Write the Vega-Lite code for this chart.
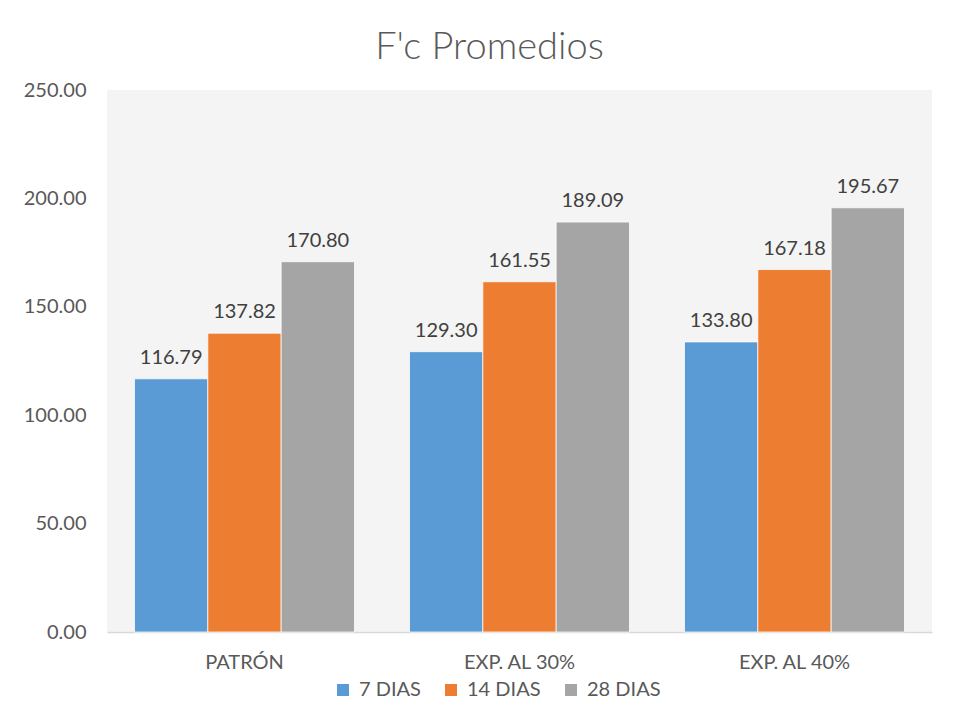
{
  "$schema": "https://vega.github.io/schema/vega-lite/v6.json",
  "width": 825,
  "height": 542,
  "autosize": {"type": "none"},
  "padding": {"left": 107, "top": 90, "right": 26, "bottom": 85},
  "background": "white",
  "title": {
    "text": "F'c Promedios",
    "font": "Lato",
    "fontWeight": 300,
    "fontSize": 38,
    "color": "#595959",
    "anchor": "middle",
    "dx": -30,
    "offset": 13
  },
  "config": {
    "view": {"fill": "#f4f4f4", "stroke": null},
    "font": "Lato",
    "axis": {"labelFont": "Lato", "labelColor": "#595959", "labelFontSize": 20, "grid": false, "ticks": false, "title": null}
  },
  "data": {
    "values": [
      {"grupo": "PATRÓN", "edad": "7 DIAS", "fc": 116.79},
      {"grupo": "PATRÓN", "edad": "14 DIAS", "fc": 137.82},
      {"grupo": "PATRÓN", "edad": "28 DIAS", "fc": 170.80},
      {"grupo": "EXP. AL 30%", "edad": "7 DIAS", "fc": 129.30},
      {"grupo": "EXP. AL 30%", "edad": "14 DIAS", "fc": 161.55},
      {"grupo": "EXP. AL 30%", "edad": "28 DIAS", "fc": 189.09},
      {"grupo": "EXP. AL 40%", "edad": "7 DIAS", "fc": 133.80},
      {"grupo": "EXP. AL 40%", "edad": "14 DIAS", "fc": 167.18},
      {"grupo": "EXP. AL 40%", "edad": "28 DIAS", "fc": 195.67}
    ]
  },
  "encoding": {
    "x": {
      "field": "grupo", "type": "nominal", "sort": null,
      "scale": {"paddingInner": 0.2, "paddingOuter": 0.1},
      "axis": {"labelAngle": 0, "labelPadding": 20, "domainColor": "#d9d9d9", "domainWidth": 1.5}
    },
    "xOffset": {
      "field": "edad", "type": "nominal",
      "sort": ["7 DIAS", "14 DIAS", "28 DIAS"],
      "scale": {"paddingInner": 0, "paddingOuter": 0}
    },
    "y": {
      "field": "fc", "type": "quantitative",
      "scale": {"domain": [0, 250], "nice": false},
      "axis": {"values": [0, 50, 100, 150, 200, 250], "format": ".2f", "domain": false, "labelPadding": 21}
    }
  },
  "layer": [
    {
      "mark": {"type": "bar", "stroke": "white", "strokeWidth": 0.75},
      "encoding": {
        "color": {
          "field": "edad", "type": "nominal",
          "sort": ["7 DIAS", "14 DIAS", "28 DIAS"],
          "scale": {"domain": ["7 DIAS", "14 DIAS", "28 DIAS"], "range": ["#5b9bd5", "#ed7d31", "#a5a5a5"]},
          "legend": {
            "title": null, "orient": "none", "direction": "horizontal",
            "legendX": 226, "legendY": 590,
            "symbolType": "square", "symbolSize": 144, "symbolStrokeWidth": 0,
            "labelFont": "Lato", "labelFontSize": 20, "labelColor": "#595959",
            "columnPadding": 20, "labelOffset": 6
          }
        }
      }
    },
    {
      "mark": {"type": "text", "baseline": "bottom", "dy": -11, "fontSize": 20, "font": "Lato", "color": "#404040"},
      "encoding": {
        "text": {"field": "fc", "type": "quantitative", "format": ".2f"}
      }
    }
  ]
}
